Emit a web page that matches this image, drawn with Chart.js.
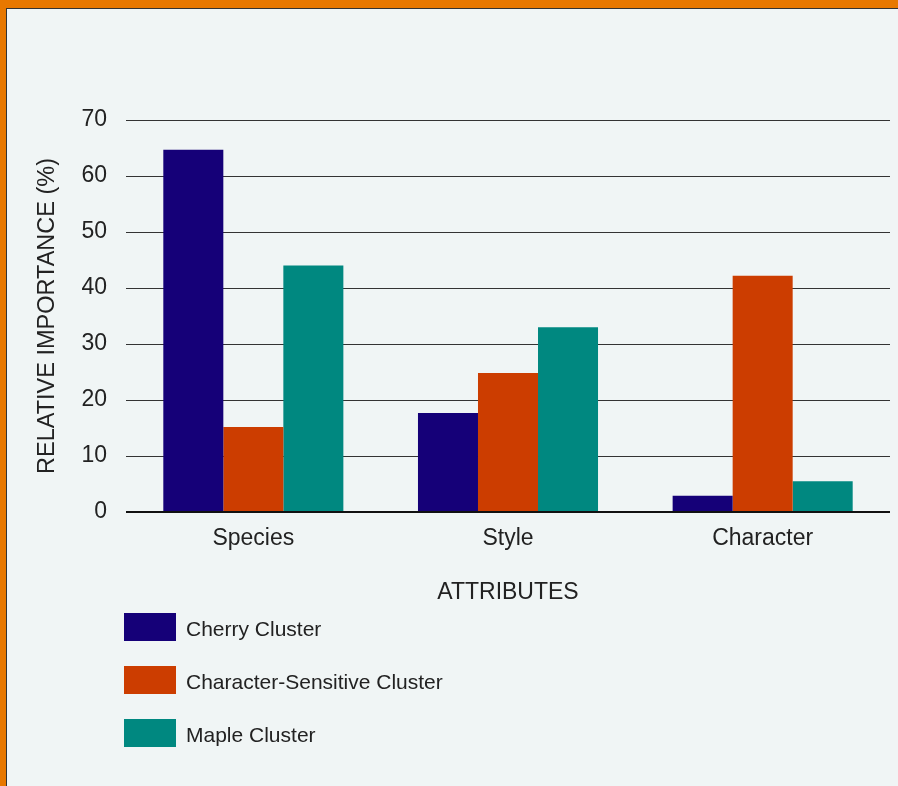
<!DOCTYPE html>
<html>
<head>
    <title>Relative Importance of Attributes</title>
    <script src="https://cdn.jsdelivr.net/npm/chart.js"></script>
    <style>
        body { margin: 0; width: 898px; height: 786px; overflow: hidden; font-family: "Liberation Sans", Arial, sans-serif; }
        #frame { position: absolute; left: 0; top: 0; width: 898px; height: 786px; background: #e87800; }
        #inner { position: absolute; left: 6px; top: 8px; right: 0; bottom: 0; background: #f0f5f5;
                 border-top: 1px solid #333; border-left: 1px solid #333; }
        #plot { position: absolute; left: 0; top: 0; }
        #legend { position: absolute; left: 124px; top: 613px; }
        .item { display: flex; align-items: center; height: 28px; margin-bottom: 25px; }
        .box { width: 52px; height: 28px; margin-right: 10px; }
        .label { font-size: 21px; color: #222; padding-top: 3px; }
    </style>
</head>
<body>
    <div id="frame"><div id="inner"></div></div>
    <canvas id="plot" width="898" height="786"></canvas>
    <div id="legend"></div>

    <script>
        // values
        const categories = ['Species', 'Style', 'Character'];
        const seriesNames = ['Cherry Cluster', 'Character-Sensitive Cluster', 'Maple Cluster'];
        const cherry = [64.7, 17.7, 2.9];
        const characterSensitive = [15.2, 24.8, 42.2];
        const maple = [44.0, 33.0, 5.5];
        const yTicks = [0, 10, 20, 30, 40, 50, 60, 70];
        const colors = ['#150078', '#cc3d00', '#008880'];

        const textColor = '#222';
        const font = { family: '"Liberation Sans", Arial, sans-serif', size: 23 };
        const titleFont = { family: '"Liberation Sans", Arial, sans-serif', size: 23.5 };

        const seriesValues = [cherry, characterSensitive, maple];
        const datasets = seriesNames.map((name, i) => ({
            label: name,
            data: seriesValues[i],
            backgroundColor: colors[i],
            borderWidth: 0,
            categoryPercentage: 0.707,
            barPercentage: 1.0
        }));

        // legend built from the same arrays
        const legend = document.getElementById('legend');
        seriesNames.forEach((name, i) => {
            const row = document.createElement('div');
            row.className = 'item';
            row.innerHTML = '<div class="box" style="background:' + colors[i] + '"></div><span class="label">' + name + '</span>';
            legend.appendChild(row);
        });

        const ctx = document.getElementById('plot').getContext('2d');
        const chart = new Chart(ctx, {
            type: 'bar',
            data: { labels: categories, datasets: datasets },
            options: {
                responsive: false,
                animation: false,
                layout: { padding: { left: 0, top: 120, right: 8, bottom: 174 } },
                plugins: { legend: { display: false }, tooltip: { enabled: false } },
                scales: {
                    x: {
                        grid: { display: false, drawTicks: false },
                        border: { display: false },
                        ticks: { color: textColor, font: font, padding: 13, maxRotation: 0 },
                        title: { display: true, text: 'ATTRIBUTES', color: textColor, font: font, padding: { top: 0, bottom: 6 } },
                        afterFit: scale => { scale.height = 100; }
                    },
                    y: {
                        min: 0,
                        max: 70,
                        afterBuildTicks: scale => { scale.ticks = yTicks.map(v => ({ value: v })); },
                        grid: {
                            drawTicks: false,
                            color: ctx => ctx.tick && ctx.tick.value === 0 ? '#111' : '#333',
                            lineWidth: ctx => ctx.tick && ctx.tick.value === 0 ? 2 : 1
                        },
                        border: { display: false },
                        ticks: { color: textColor, font: font, padding: 19 },
                        title: { display: true, text: 'RELATIVE IMPORTANCE (%)', color: textColor, font: titleFont, padding: { top: 33, bottom: 0 } },
                        afterFit: scale => { scale.width = 126; }
                    }
                }
            }
        });
    </script>
</body>
</html>
